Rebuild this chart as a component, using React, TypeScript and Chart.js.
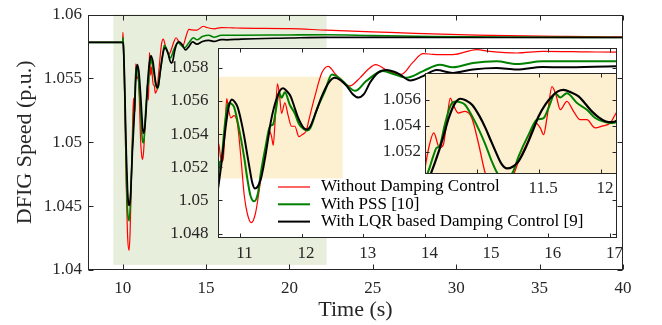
import React, { useEffect, useRef } from "react";
import { Chart, registerables } from "chart.js";

Chart.register(...registerables);

// ---------------- data ----------------
const seriesLabels = [
  "Without Damping Control",
  "With PSS [10]",
  "With LQR based Damping Control [9]",
];

const timeRed = [
  7.92, 10.0, 10.015, 10.04, 10.1, 10.16, 10.23, 10.3, 10.38, 10.44, 10.5, 10.56, 10.61,
  10.653, 10.699, 10.73, 10.76, 10.786, 10.81, 10.851, 10.905, 10.96, 11.016, 11.07, 11.12,
  11.185, 11.25, 11.3, 11.339, 11.419, 11.473, 11.513, 11.54, 11.567, 11.608, 11.64, 11.675,
  11.728, 11.782, 11.836, 11.89, 11.957, 12.011, 12.078, 12.118, 12.217, 12.33, 12.43, 12.55,
  12.67, 12.78, 12.95, 13.08, 13.2, 13.4, 13.62, 13.8, 13.97, 14.13, 14.45, 14.84, 15.05,
  15.49, 15.91, 16.63, 17.1, 20.03, 22.2, 26, 31.2, 36.6, 40,
];
const speedRed = [
  1.05782, 1.05782, 1.0586, 1.0578, 1.0548, 1.0505, 1.0458, 1.0425, 1.04154, 1.0428, 1.0458, 1.0494, 1.0522,
  1.05345, 1.05231, 1.05254, 1.0545, 1.05613, 1.05562, 1.05498, 1.05511, 1.0546, 1.05256, 1.0503, 1.0492,
  1.04866, 1.0492, 1.0503, 1.05129, 1.05294, 1.05422, 1.05384, 1.05332, 1.0546, 1.05702, 1.05638, 1.05524,
  1.05588, 1.05511, 1.05447, 1.05447, 1.05384, 1.05397, 1.05422, 1.05485, 1.0563, 1.0577, 1.05808, 1.0576,
  1.0571, 1.0569, 1.0574, 1.0579, 1.05818, 1.0578, 1.0576, 1.0583, 1.05884, 1.0588, 1.05878, 1.05908, 1.05898,
  1.05888, 1.05898, 1.05895, 1.05893, 1.0589, 1.05877, 1.0586, 1.05838, 1.05828, 1.05825,
];

const timeGreen = [
  7.92, 10.0, 10.015, 10.04, 10.1, 10.16, 10.23, 10.3, 10.38, 10.45, 10.52, 10.58, 10.62,
  10.65, 10.675, 10.7, 10.74, 10.774, 10.8, 10.83, 10.87, 10.905, 10.97, 11.02, 11.07, 11.12,
  11.17, 11.23, 11.29, 11.339, 11.419, 11.486, 11.54, 11.58, 11.634, 11.675, 11.728, 11.81,
  11.89, 11.957, 12.038, 12.09, 12.14, 12.25, 12.38, 12.49, 12.6, 12.72, 12.87, 13.05, 13.32,
  13.5, 13.7, 13.97, 14.24, 14.45, 14.78, 15.16, 15.49, 15.91, 16.24, 17.1, 20, 22.2, 25,
  28.6, 32.6, 40,
];
const speedGreen = [
  1.05782, 1.05782, 1.0582, 1.0577, 1.0551, 1.0512, 1.0468, 1.0445, 1.04385, 1.0449, 1.0474, 1.0497, 1.0508,
  1.0517, 1.0523, 1.05245, 1.054, 1.0552, 1.05575, 1.05587, 1.0558, 1.05562, 1.0546, 1.05365, 1.05256, 1.0513,
  1.0503, 1.04995, 1.0504, 1.05167, 1.05332, 1.05447, 1.0546, 1.05537, 1.05651, 1.05618, 1.05651, 1.05575,
  1.05524, 1.0546, 1.05429, 1.05422, 1.05435, 1.0555, 1.0566, 1.05758, 1.0574, 1.057, 1.0566, 1.0572, 1.05779,
  1.0576, 1.05739, 1.05779, 1.05818, 1.05802, 1.05828, 1.05838, 1.05822, 1.05838, 1.05838, 1.05838, 1.0584, 1.05841, 1.05835,
  1.05828, 1.05823, 1.0582,
];

const timeBlack = [
  7.92, 10.0, 10.04, 10.1, 10.16, 10.22, 10.29, 10.35, 10.4, 10.46, 10.52, 10.58, 10.627,
  10.694, 10.734, 10.774, 10.82, 10.869, 10.915, 10.962, 11.02, 11.07, 11.11, 11.151, 11.2,
  11.244, 11.29, 11.339, 11.38, 11.419, 11.46, 11.5, 11.555, 11.607, 11.655, 11.702, 11.76,
  11.823, 11.875, 11.93, 11.985, 12.038, 12.09, 12.14, 12.23, 12.33, 12.44, 12.54, 12.63,
  12.73, 12.83, 12.92, 13.01, 13.11, 13.24, 13.38, 13.5, 13.59, 13.76, 13.97, 14.19, 14.45,
  14.78, 15.16, 15.49, 15.91, 16.24, 17.1, 20, 22.2, 30, 40,
];
const speedBlack = [
  1.05782, 1.05782, 1.0576, 1.0555, 1.0522, 1.049, 1.0463, 1.0452, 1.04505, 1.0456, 1.0472, 1.0492, 1.05026,
  1.05205, 1.0533, 1.0546, 1.05567, 1.05608, 1.05594, 1.05562, 1.05478, 1.05384, 1.05295, 1.05205, 1.05107,
  1.05072, 1.05085, 1.05129, 1.052, 1.05282, 1.05378, 1.05473, 1.05565, 1.05626, 1.05665, 1.05676, 1.05658,
  1.05626, 1.05572, 1.05511, 1.05465, 1.05435, 1.05428, 1.05445, 1.0553, 1.0563, 1.0571, 1.05739, 1.05725,
  1.0569, 1.0564, 1.0562, 1.0564, 1.0571, 1.0577, 1.05785, 1.05775, 1.0576, 1.05723, 1.05749, 1.05785, 1.05768,
  1.05789, 1.05798, 1.05789, 1.05804, 1.05802, 1.05808, 1.05816, 1.05821, 1.0582, 1.0582,
];

// tick values
const mainXTicks = [10, 15, 20, 25, 30, 35, 40];
const mainYTicks = [1.04, 1.045, 1.05, 1.055, 1.06];
const inset1XTicks = [11, 12, 13, 14, 15, 16, 17];
const inset1YTicks = [1.048, 1.05, 1.052, 1.054, 1.056, 1.058];
const inset2XTicks = [11, 11.5, 12];
const inset2YTicks = [1.052, 1.054, 1.056];

// shaded zoom regions (data units)
const greenShadeX = [9.44, 22.23];
const greenShadeY = [1.0404, 1.06];
const orangeShadeX = [10.644, 12.666];
const orangeShadeY = [1.05133, 1.05745];

// ---------------- styling ----------------
const W = 662;
const H = 325;
const FONT = "'Liberation Serif', 'Times New Roman', Times, serif";
const AXIS = "#262626";
const GREEN_BG = "rgb(232,238,220)";
const ORANGE_BG = "rgb(253,240,208)";

const SERIES = [
  { label: seriesLabels[0], t: timeRed, v: speedRed, color: "#ff0000", order: 3, legendWidth: 1.2 },
  { label: seriesLabels[1], t: timeGreen, v: speedGreen, color: "#008000", order: 2, legendWidth: 2 },
  { label: seriesLabels[2], t: timeBlack, v: speedBlack, color: "#000000", order: 1, legendWidth: 2 },
];

type Area = { left: number; top: number; right: number; bottom: number };
type Panel = {
  area: Area;
  xMin: number; xMax: number; yMin: number; yMax: number;
  xTicks: number[]; yTicks: number[];
  xPad: number; yPad: number; xLabelOffset: number;
  tickLen: number; widths: number[];
  fillArea?: string;
  shade?: { x: number[]; y: number[]; color: string };
  xTitle?: string; yTitle?: string;
  legend?: boolean;
};

const MAIN: Panel = {
  area: { left: 88, top: 10, right: 623, bottom: 270 },
  xMin: 7.92, xMax: 40, yMin: 1.04, yMax: 1.06,
  xTicks: mainXTicks, yTicks: mainYTicks,
  xPad: 10, yPad: 6, xLabelOffset: 0, tickLen: 5,
  widths: [1.2, 1.6, 1.7],
  shade: { x: greenShadeX, y: greenShadeY, color: GREEN_BG },
  xTitle: "Time (s)", yTitle: "DFIG Speed (p.u.)",
};

const INSET1: Panel = {
  area: { left: 218, top: 47.7, right: 616.7, bottom: 238 },
  xMin: 10.644, xMax: 17.11, yMin: 1.04774, yMax: 1.0592,
  xTicks: inset1XTicks, yTicks: inset1YTicks,
  xPad: 7, yPad: 9.5, xLabelOffset: 4.5, tickLen: 4,
  widths: [1.2, 2, 2],
  fillArea: "#ffffff",
  shade: { x: orangeShadeX, y: orangeShadeY, color: ORANGE_BG },
};

const INSET2: Panel = {
  area: { left: 425, top: 73.3, right: 617, bottom: 173.5 },
  xMin: 10.582, xMax: 12.133, yMin: 1.05033, yMax: 1.05804,
  xTicks: inset2XTicks, yTicks: inset2YTicks,
  xPad: 7, yPad: 4, xLabelOffset: 4.5, tickLen: 4,
  widths: [1.3, 2, 2.2],
  fillArea: ORANGE_BG,
  legend: true,
};

const LEGEND = { x: 268, y: 180, w: 240, h: 54, lineX0: 278, lineX1: 310, textX: 321, row0: 187, rowGap: 17.3 };

function bgPlugin(p: Panel) {
  return {
    id: "panelBg",
    beforeDatasetsDraw(chart: any) {
      const { ctx, chartArea: a, scales } = chart;
      ctx.save();
      if (p.fillArea) {
        ctx.fillStyle = p.fillArea;
        ctx.fillRect(a.left, a.top, a.right - a.left, a.bottom - a.top);
      }
      if (p.shade) {
        const x0 = scales.x.getPixelForValue(p.shade.x[0]);
        const x1 = scales.x.getPixelForValue(p.shade.x[1]);
        const y0 = scales.y.getPixelForValue(p.shade.y[1]);
        const y1 = scales.y.getPixelForValue(p.shade.y[0]);
        ctx.fillStyle = p.shade.color;
        ctx.fillRect(x0, y0, x1 - x0, y1 - y0);
      }
      ctx.restore();
    },
  };
}

function framePlugin(p: Panel) {
  return {
    id: "panelFrame",
    afterDatasetsDraw(chart: any) {
      const { ctx, chartArea: a, scales } = chart;
      const L = Math.round(a.left) + 0.5;
      const R = Math.round(a.right) - 0.5;
      const T = Math.round(a.top) + 0.5;
      const B = Math.round(a.bottom) - 0.5;
      const len = p.tickLen;
      ctx.save();
      ctx.strokeStyle = AXIS;
      ctx.lineWidth = 1;
      ctx.strokeRect(L, T, R - L, B - T);
      ctx.beginPath();
      for (const t of scales.x.ticks) {
        const x = Math.round(scales.x.getPixelForValue(t.value)) + 0.5;
        ctx.moveTo(x, B); ctx.lineTo(x, B - len);
        ctx.moveTo(x, T); ctx.lineTo(x, T + len);
      }
      for (const t of scales.y.ticks) {
        const y = Math.round(scales.y.getPixelForValue(t.value)) + 0.5;
        ctx.moveTo(L, y); ctx.lineTo(L + len, y);
        ctx.moveTo(R, y); ctx.lineTo(R - len, y);
      }
      ctx.stroke();
      ctx.restore();
    },
  };
}

const legendPlugin = {
  id: "legendBox",
  afterDraw(chart: any) {
    const ctx = chart.ctx;
    ctx.save();
    ctx.fillStyle = "#ffffff";
    ctx.fillRect(LEGEND.x, LEGEND.y, LEGEND.w, LEGEND.h);
    SERIES.forEach((s, i) => {
      const y = LEGEND.row0 + i * LEGEND.rowGap;
      ctx.strokeStyle = s.color;
      ctx.lineWidth = s.legendWidth;
      ctx.beginPath();
      ctx.moveTo(LEGEND.lineX0, y);
      ctx.lineTo(LEGEND.lineX1, y);
      ctx.stroke();
      ctx.fillStyle = "#000000";
      ctx.font = `17px ${FONT}`;
      ctx.textBaseline = "middle";
      ctx.textAlign = "left";
      ctx.fillText(s.label, LEGEND.textX, y);
    });
    ctx.restore();
  },
};

function buildConfig(p: Panel): any {
  const datasets = SERIES.map((s, i) => ({
    label: s.label,
    data: s.t.map((t, k) => ({ x: t, y: s.v[k] })),
    borderColor: s.color,
    borderWidth: p.widths[i],
    pointRadius: 0,
    pointHoverRadius: 0,
    cubicInterpolationMode: "monotone",
    fill: false,
    order: s.order,
    clip: 0,
  }));
  const tickFont = { family: FONT, size: 17, lineHeight: 1 };
  return {
    type: "line",
    data: { datasets },
    options: {
      animation: false,
      responsive: false,
      events: [],
      layout: { padding: { left: 0, top: p.area.top, right: W - p.area.right, bottom: 0 } },
      plugins: { legend: { display: false }, tooltip: { enabled: false } },
      scales: {
        x: {
          type: "linear",
          min: p.xMin,
          max: p.xMax,
          grid: { display: false, drawTicks: false },
          border: { display: false },
          ticks: {
            autoSkip: false,
            maxRotation: 0,
            padding: p.xPad,
            labelOffset: p.xLabelOffset,
            font: tickFont,
            color: AXIS,
            callback: (v: number) => String(v),
          },
          afterBuildTicks: (s: any) => { s.ticks = p.xTicks.map((v) => ({ value: v })); },
          afterFit: (s: any) => { s.height = H - p.area.bottom; },
          title: p.xTitle
            ? { display: true, text: p.xTitle, color: AXIS, font: { family: FONT, size: 22 }, padding: { top: 0, bottom: 2 } }
            : { display: false },
        },
        y: {
          type: "linear",
          min: p.yMin,
          max: p.yMax,
          grid: { display: false, drawTicks: false },
          border: { display: false },
          ticks: {
            autoSkip: false,
            padding: p.yPad,
            font: tickFont,
            color: AXIS,
            callback: (v: number) => String(v),
          },
          afterBuildTicks: (s: any) => { s.ticks = p.yTicks.map((v) => ({ value: v })); },
          afterFit: (s: any) => { s.width = p.area.left; },
          title: p.yTitle
            ? { display: true, text: p.yTitle, color: AXIS, font: { family: FONT, size: 22 }, padding: { top: 12, bottom: 0 } }
            : { display: false },
        },
      },
    },
    plugins: [bgPlugin(p), framePlugin(p), ...(p.legend ? [legendPlugin] : [])],
  };
}

export default function App() {
  const r0 = useRef<HTMLCanvasElement>(null);
  const r1 = useRef<HTMLCanvasElement>(null);
  const r2 = useRef<HTMLCanvasElement>(null);

  useEffect(() => {
    const charts = [
      new Chart(r0.current as HTMLCanvasElement, buildConfig(MAIN)),
      new Chart(r1.current as HTMLCanvasElement, buildConfig(INSET1)),
      new Chart(r2.current as HTMLCanvasElement, buildConfig(INSET2)),
    ];
    return () => charts.forEach((c) => c.destroy());
  }, []);

  const cs: React.CSSProperties = { position: "absolute", left: 0, top: 0, width: W, height: H };
  return (
    <div style={{ position: "absolute", left: 0, top: 0, width: W, height: H, background: "#ffffff", overflow: "hidden" }}>
      <canvas ref={r0} width={W} height={H} style={cs} />
      <canvas ref={r1} width={W} height={H} style={cs} />
      <canvas ref={r2} width={W} height={H} style={cs} />
    </div>
  );
}
